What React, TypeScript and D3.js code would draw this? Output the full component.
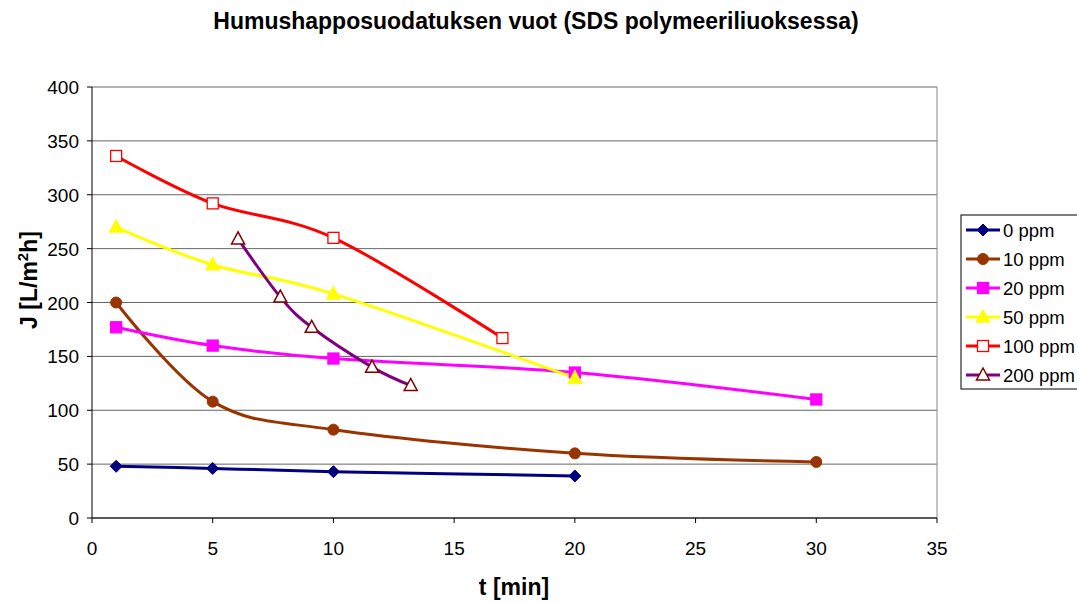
import * as d3 from "d3";

const chartTitle = "Humushapposuodatuksen vuot (SDS polymeeriliuoksessa)";
const seriesNames = ["0 ppm", "10 ppm", "20 ppm", "50 ppm", "100 ppm", "200 ppm"];
const t0 = [1, 5, 10, 20];
const j0 = [48, 46, 43, 39];
const t10 = [1, 5, 10, 20, 30];
const j10 = [200, 108, 82, 60, 52];
const t20 = [1, 5, 10, 20, 30];
const j20 = [177, 160, 148, 135, 110];
const t50 = [1, 5, 10, 20];
const j50 = [270, 235, 208, 130];
const t100 = [1, 5, 10, 17];
const j100 = [336, 292, 260, 167];
const t200 = [6.05, 7.8, 9.1, 11.6, 13.2];
const j200 = [259, 205, 177, 140, 123];
const xTicks = [0, 5, 10, 15, 20, 25, 30, 35];
const yTicks = [0, 50, 100, 150, 200, 250, 300, 350, 400];

const styles = [
  { line: "#000080", marker: "diamond", fill: "#000080", stroke: "#000080" },
  { line: "#993300", marker: "circle", fill: "#993300", stroke: "#993300" },
  { line: "#FF00FF", marker: "square", fill: "#FF00FF", stroke: "#FF00FF" },
  { line: "#FFFF00", marker: "triangle", fill: "#FFFF00", stroke: "#FFFF00" },
  { line: "#FF0000", marker: "square", fill: "#FFFFFF", stroke: "#FF0000" },
  { line: "#800080", marker: "triangle", fill: "#FFFFFF", stroke: "#800000" },
];

const seriesData = [
  [t0, j0],
  [t10, j10],
  [t20, j20],
  [t50, j50],
  [t100, j100],
  [t200, j200],
].map(([ts, js], i) => ({ name: seriesNames[i], pts: ts.map((t, k) => [t, js[k]] as [number, number]) }));

function Marker({ kind, x, y, fill, stroke }: { kind: string; x: number; y: number; fill: string; stroke: string }) {
  if (kind === "diamond")
    return <path d={`M${x},${y - 6}L${x + 6},${y}L${x},${y + 6}L${x - 6},${y}Z`} fill={fill} stroke={stroke} />;
  if (kind === "circle") return <circle cx={x} cy={y} r={5.5} fill={fill} stroke={stroke} />;
  if (kind === "square")
    return <rect x={x - 5.5} y={y - 5.5} width={11} height={11} fill={fill} stroke={stroke} strokeWidth={1.3} />;
  return (
    <path d={`M${x},${y - 7}L${x + 6.5},${y + 5}L${x - 6.5},${y + 5}Z`} fill={fill} stroke={stroke} strokeWidth={1.5} />
  );
}

export default function App() {
  const width = 1077;
  const height = 603;
  const margin = { left: 92, top: 87, right: 937, bottom: 518 };

  const xScale = d3.scaleLinear().domain([0, 35]).range([margin.left, margin.right]);
  const yScale = d3.scaleLinear().domain([0, 400]).range([margin.bottom, margin.top]);

  const line = d3
    .line<[number, number]>()
    .x((d) => xScale(d[0]))
    .y((d) => yScale(d[1]))
    .curve(d3.curveCardinal.tension(0));

  const font = "Arial, 'Liberation Sans', sans-serif";

  return (
    <svg width={width} height={height} style={{ position: "absolute", left: 0, top: 0 }} fontFamily={font}>
      <rect width={width} height={height} fill="#fff" />
      <text x={536} y={29} textAnchor="middle" fontSize={23} fontWeight="bold">
        {chartTitle}
      </text>
      {/* grid */}
      {yTicks.map((t) => (
        <line key={t} x1={margin.left} x2={margin.right} y1={yScale(t)} y2={yScale(t)} stroke="#666" strokeWidth={1} />
      ))}
      <line x1={margin.right} x2={margin.right} y1={margin.top} y2={margin.bottom} stroke="#888" />
      {/* axes */}
      <line x1={margin.left} x2={margin.left} y1={margin.top} y2={margin.bottom} stroke="#000" />
      <line x1={margin.left} x2={margin.right} y1={margin.bottom} y2={margin.bottom} stroke="#000" />
      {yTicks.map((t) => (
        <g key={t}>
          <line x1={margin.left - 5} x2={margin.left} y1={yScale(t)} y2={yScale(t)} stroke="#000" />
          <text x={margin.left - 13} y={yScale(t) + 7} textAnchor="end" fontSize={19}>
            {t}
          </text>
        </g>
      ))}
      {xTicks.map((t) => (
        <g key={t}>
          <line x1={xScale(t)} x2={xScale(t)} y1={margin.bottom} y2={margin.bottom + 5} stroke="#000" />
          <text x={xScale(t)} y={margin.bottom + 37} textAnchor="middle" fontSize={19}>
            {t}
          </text>
        </g>
      ))}
      <text x={514} y={595} textAnchor="middle" fontSize={23} fontWeight="bold">
        t [min]
      </text>
      <text transform={`translate(37,280) rotate(-90)`} textAnchor="middle" fontSize={23} fontWeight="bold">
        J [L/m<tspan fontSize={15} dy={-9}>2</tspan>
        <tspan dy={9}>h]</tspan>
      </text>
      {/* series */}
      {seriesData.map((s, i) => (
        <path key={s.name} d={line(s.pts) ?? ""} fill="none" stroke={styles[i].line} strokeWidth={3} />
      ))}
      {seriesData.map((s, i) =>
        s.pts.map((p, k) => (
          <Marker
            key={s.name + k}
            kind={styles[i].marker}
            x={xScale(p[0])}
            y={yScale(p[1])}
            fill={styles[i].fill}
            stroke={styles[i].stroke}
          />
        ))
      )}
      {/* legend */}
      <rect x={961} y={215} width={130} height={174} fill="#fff" stroke="#000" />
      {seriesNames.map((n, i) => {
        const y = 230 + i * 29;
        return (
          <g key={n}>
            <line x1={966} x2={1000} y1={y} y2={y} stroke={styles[i].line} strokeWidth={3} />
            <Marker kind={styles[i].marker} x={983} y={y} fill={styles[i].fill} stroke={styles[i].stroke} />
            <text x={1003} y={y + 6.5} fontSize={18.5}>
              {n}
            </text>
          </g>
        );
      })}
    </svg>
  );
}
